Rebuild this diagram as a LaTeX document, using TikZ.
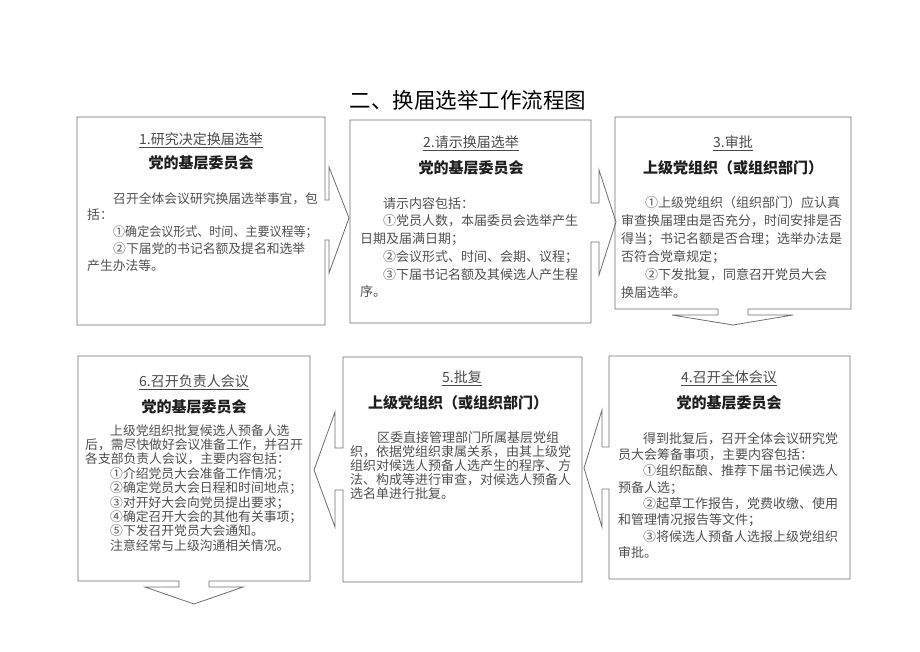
\documentclass[tikz,border=0pt]{standalone}
\usepackage{fontspec}
\usepackage{graphicx}
\setmainfont{Noto Sans CJK SC}
\definecolor{linegray}{HTML}{6E6E6E}
\definecolor{bodygray}{HTML}{505050}
\definecolor{headgray}{HTML}{4A4A4A}
\definecolor{boldcol}{HTML}{1E1E1E}
\newcommand\indt[1]{\hspace*{#1pt}}
\tikzset{
  boxline/.style={draw=linegray, line width=0.8pt, line join=miter},
  titletext/.style={inner sep=0pt, font=\fontsize{21.5}{24}\selectfont, text=black},
  headtext/.style={inner sep=0pt, font=\fontsize{14}{16}\selectfont, text=headgray},
  boldtext/.style={inner sep=0pt, font=\fontsize{15}{17}\selectfont\bfseries, text=boldcol},
  bodytext/.style={anchor=north west, inner sep=0pt, align=left, text=bodygray},
}
\begin{document}
\begin{tikzpicture}[x=1pt,y=-1pt]
\useasboundingbox (0,0) rectangle (920,651);

% title
\node[titletext] (title) at (468,100) {二、换届选举工作流程图};

% box outlines with attached arrows
\draw[boxline] (77,117) -- (325,117) -- (325,200) -- (329,200) -- (329,167) -- (349,218) -- (329,273) -- (329,240) -- (325,240) -- (325,325) -- (77,325) -- cycle;
\draw[boxline] (350,120) -- (591,120) -- (591,203) -- (599,203) -- (599,170) -- (616,222) -- (599,275) -- (599,242) -- (591,242) -- (591,323) -- (350,323) -- cycle;
\draw[boxline] (615,117) -- (851,117) -- (851,309) -- (748,309) -- (748,315) -- (793,315) -- (733,325) -- (672,315) -- (718,315) -- (718,309) -- (615,309) -- cycle;
\draw[boxline] (609,356) -- (850,356) -- (850,579) -- (609,579) -- (609,489) -- (602,489) -- (602,527) -- (584,468) -- (602,410) -- (602,447) -- (609,447) -- cycle;
\draw[boxline] (343,357) -- (582,357) -- (582,582) -- (343,582) -- (343,490) -- (335,490) -- (335,527) -- (314,470) -- (335,412) -- (335,448) -- (343,448) -- cycle;
\draw[boxline] (78,356) -- (310,356) -- (310,581) -- (209,581) -- (209,587) -- (243,587) -- (194,604) -- (145,587) -- (179,587) -- (179,581) -- (78,581) -- cycle;

% box 1
\node[headtext] (h1) at (201,140) {\underline{1.研究决定换届选举}};
\node[boldtext] (s1) at (201,163) {党的基层委员会};
\node[bodytext, font=\fontsize{12.8}{16.8}\selectfont] (b1) at (87,192) {%
\indt{26}召开全体会议研究换届选举事宜，包\\
括：\\
\indt{26}\scalebox{0.94}[1]{①确定会议形式、时间、主要议程等；}\\
\indt{26}②下届党的书记名额及提名和选举\\
产生办法等。};

% box 2
\node[headtext] (h2) at (471,143) {\underline{2.请示换届选举}};
\node[boldtext] (s2) at (471,168) {党的基层委员会};
\node[bodytext, font=\fontsize{13}{17.7}\selectfont] (b2) at (360,197) {%
\indt{23}请示内容包括：\\
\indt{23}①党员人数，本届委员会选举产生\\
日期及届满日期；\\
\indt{23}②会议形式、时间、会期、议程；\\
\indt{23}③下届书记名额及其候选人产生程\\
序。};

% box 3
\node[headtext] (h3) at (733,143) {\underline{3.审批}};
\node[boldtext] (s3) at (733,168) {上级党组织（或组织部门）};
\node[bodytext, font=\fontsize{13}{18}\selectfont] (b3) at (621,196) {%
\indt{24}①上级党组织（组织部门）应认真\\
审查换届理由是否充分，时间安排是否\\
得当；书记名额是否合理；选举办法是\\
否符合党章规定；\\
\indt{24}②下发批复，同意召开党员大会\\
换届选举。};

% box 4
\node[headtext] (h4) at (729,378) {\underline{4.召开全体会议}};
\node[boldtext] (s4) at (729,403) {党的基层委员会};
\node[bodytext, font=\fontsize{13}{16.3}\selectfont] (b4) at (618,432) {%
\indt{25}得到批复后，召开全体会议研究党\\
员大会筹备事项，主要内容包括：\\
\indt{25}①组织酝酿、推荐下届书记候选人\\
预备人选；\\
\indt{25}②起草工作报告，党费收缴、使用\\
和管理情况报告等文件；\\
\indt{25}③将候选人预备人选报上级党组织\\
审批。};

% box 5
\node[headtext] (h5) at (462,378) {\underline{5.批复}};
\node[boldtext] (s5) at (458,403) {上级党组织（或组织部门）};
\node[bodytext, font=\fontsize{13}{14.1}\selectfont] (b5) at (350,431) {%
\indt{27}区委直接管理部门所属基层党组\\
织，依据党组织隶属关系，由其上级党\\
组织对候选人预备人选产生的程序、方\\
法、构成等进行审查，对候选人预备人\\
选名单进行批复。};

% box 6
\node[headtext] (h6) at (194,382) {\underline{6.召开负责人会议}};
\node[boldtext] (s6) at (194,407) {党的基层委员会};
\node[bodytext, font=\fontsize{12.8}{14.4}\selectfont] (b6) at (85,424) {%
\indt{25}上级党组织批复候选人预备人选\\
后，需尽快做好会议准备工作，并召开\\
各支部负责人会议，主要内容包括：\\
\indt{25}①介绍党员大会准备工作情况；\\
\indt{25}②确定党员大会日程和时间地点；\\
\indt{25}③对开好大会向党员提出要求；\\
\indt{25}④确定召开大会的其他有关事项；\\
\indt{25}⑤下发召开党员大会通知。\\
\indt{25}注意经常与上级沟通相关情况。};
\end{tikzpicture}
\end{document}
